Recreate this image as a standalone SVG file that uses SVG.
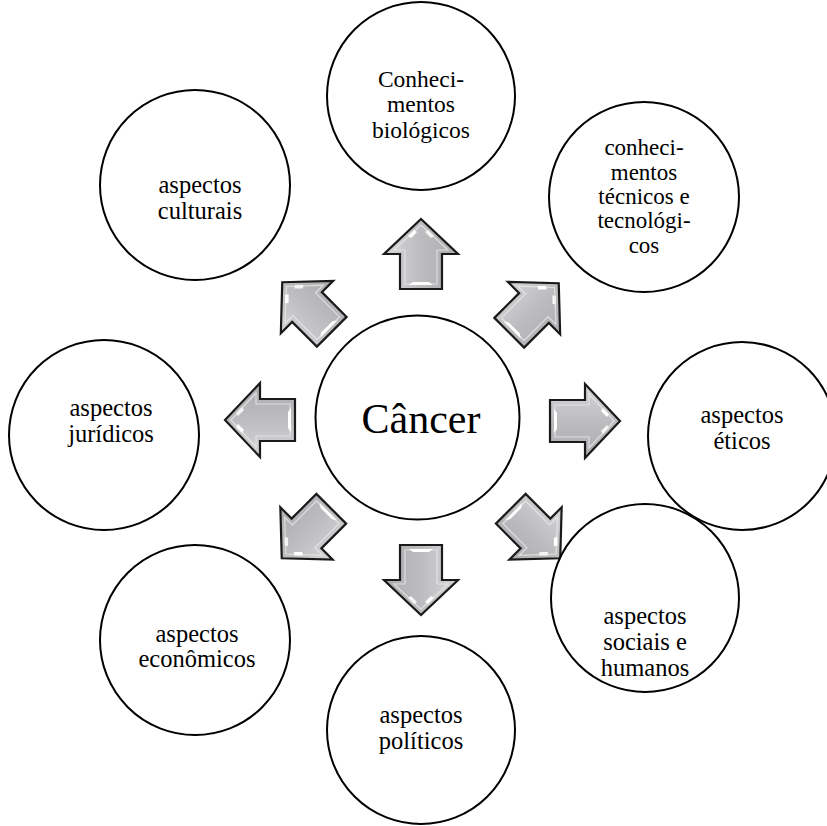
<svg xmlns="http://www.w3.org/2000/svg" width="827" height="826" viewBox="0 0 827 826">
<defs>
<linearGradient id="g" x1="0" y1="0" x2="0" y2="1">
<stop offset="0" stop-color="#d6d6d8"/>
<stop offset="0.5" stop-color="#bdbdc0"/>
<stop offset="1" stop-color="#acacaf"/>
</linearGradient>
<g id="arrow">
<path d="M-35,-21 H0 V-37 L35,0 L0,37 V21 H-35 Z" fill="url(#g)" stroke="#1a1a1a" stroke-width="2.2" stroke-linejoin="miter"/>
<path d="M-30,-16 H4 V-27 L29,0 L4,27 V16 H-30 Z" fill="none" stroke="#e8e8ea" stroke-width="1.2" opacity="0.8"/>
<path d="M-31,-12 L-28,-8 L-28,8 L-31,12 Z" fill="#ffffff"/>
<path d="M18,-13 L24,-7 L22,-4 L16,-10 Z" fill="#ffffff"/>
<path d="M16,10 L22,4 L24,7 L18,13 Z" fill="#f4f4f4"/>
</g>
</defs>
<style>
.c{fill:#fff;stroke:#000;stroke-width:2}
.t{font-family:"Liberation Serif","Times New Roman",serif;font-size:24.5px;fill:#000;text-anchor:middle}
.s{font-size:23.5px}
.x{font-size:23px}
</style>
<g id="connectors">
<use href="#arrow" transform="translate(421,254) rotate(-90)"/>
<use href="#arrow" transform="translate(421,580) rotate(90)"/>
<use href="#arrow" transform="translate(585,421)"/>
<use href="#arrow" transform="translate(260,420) rotate(180)"/>
<use href="#arrow" transform="translate(534,308) rotate(-45)"/>
<use href="#arrow" transform="translate(307,307) rotate(-135)"/>
<use href="#arrow" transform="translate(306.5,533.5) rotate(135)"/>
<use href="#arrow" transform="translate(535.5,533.5) rotate(45)"/>
</g>
<g id="cancer">
<circle class="c" cx="417.5" cy="417.5" r="102"/>
<text class="t" x="421" y="433" style="font-size:42px">Câncer</text>
</g>
<g id="biologicos">
<circle class="c" cx="421" cy="96" r="94"/>
<text class="t s" x="421" y="87">Conheci-</text>
<text class="t s" x="421" y="112">mentos</text>
<text class="t s" x="421" y="138">biológicos</text>
</g>
<g id="tecnicos">
<circle class="c" cx="644" cy="197" r="95"/>
<text class="t x" x="644" y="155">conheci-</text>
<text class="t x" x="644" y="180">mentos</text>
<text class="t x" x="644" y="204">técnicos e</text>
<text class="t x" x="644" y="228">tecnológi-</text>
<text class="t x" x="644" y="253">cos</text>
</g>
<g id="eticos">
<circle class="c" cx="742" cy="436" r="94"/>
<text class="t" x="742" y="423">aspectos</text>
<text class="t" x="742" y="449">éticos</text>
</g>
<g id="sociais">
<circle class="c" cx="645" cy="598" r="94"/>
<text class="t" x="645" y="624">aspectos</text>
<text class="t" x="645" y="650">sociais e</text>
<text class="t" x="645" y="676">humanos</text>
</g>
<g id="politicos">
<circle class="c" cx="421" cy="730" r="94"/>
<text class="t" x="421" y="723">aspectos</text>
<text class="t" x="421" y="749">políticos</text>
</g>
<g id="economicos">
<circle class="c" cx="195" cy="640" r="95"/>
<text class="t" x="197" y="642">aspectos</text>
<text class="t" x="197" y="667">econômicos</text>
</g>
<g id="juridicos">
<circle class="c" cx="104" cy="435" r="95"/>
<text class="t" x="111" y="416">aspectos</text>
<text class="t" x="111" y="442">jurídicos</text>
</g>
<g id="culturais">
<circle class="c" cx="195" cy="185" r="95"/>
<text class="t" x="200" y="193">aspectos</text>
<text class="t" x="200" y="219">culturais</text>
</g>
</svg>
